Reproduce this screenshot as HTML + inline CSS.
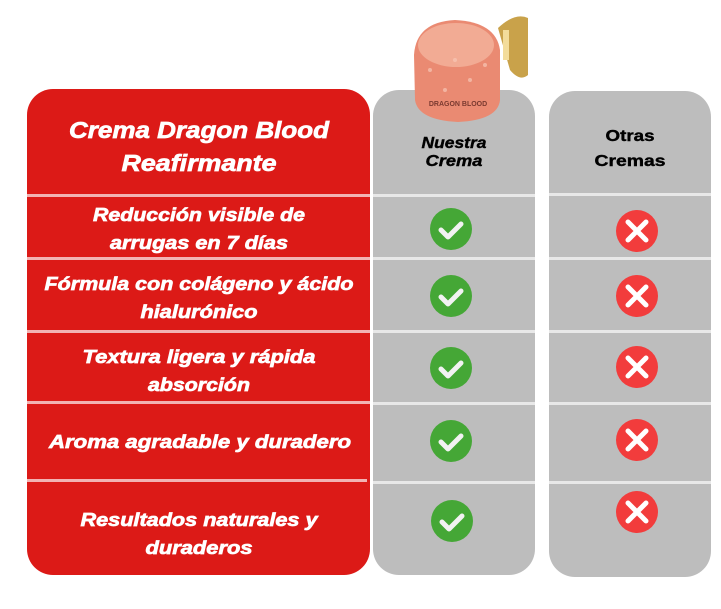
<!DOCTYPE html>
<html><head><meta charset="utf-8"><style>
html,body{margin:0;padding:0;background:#fff;width:721px;height:609px;overflow:hidden}
svg text{font-family:"Liberation Sans",sans-serif;font-weight:bold}
</style></head><body>
<svg width="721" height="609" viewBox="0 0 721 609" xmlns="http://www.w3.org/2000/svg">
<rect x="27" y="89" width="343" height="486" rx="26" fill="#dc1a17"/>
<rect x="373" y="90" width="162" height="485" rx="26" fill="#bdbdbd"/>
<rect x="549" y="91" width="162" height="486" rx="26" fill="#bdbdbd"/>
<g fill="#f2b3b3">
<rect x="27" y="194" width="343" height="3"/><rect x="27" y="257" width="343" height="3"/>
<rect x="27" y="330" width="343" height="3"/><rect x="27" y="401" width="343" height="3"/>
<rect x="27" y="479" width="340" height="3"/>
</g>
<g fill="#e8e8e8">
<rect x="373" y="194" width="162" height="3"/><rect x="373" y="257" width="162" height="3"/>
<rect x="373" y="330" width="162" height="3"/><rect x="373" y="402" width="162" height="3"/>
<rect x="373" y="481" width="162" height="3"/>
<rect x="549" y="193" width="162" height="3"/><rect x="549" y="257" width="162" height="3"/>
<rect x="549" y="330" width="162" height="3"/><rect x="549" y="402" width="162" height="3"/>
<rect x="549" y="481" width="162" height="3"/>
</g>
<!-- jar -->
<path d="M498 28 Q515 12 528 18 L528 75 Q520 82 510 70 Z" fill="#c9a24a"/>
<rect x="503" y="30" width="6" height="30" fill="#f3dc9a"/>
<path d="M414 55 Q416 22 455 20 Q496 22 500 50 L500 100 Q498 120 458 122 Q418 120 415 100 Z" fill="#ea8a72"/>
<ellipse cx="456" cy="45" rx="38" ry="22" fill="#f2ab94"/>
<g fill="#f8c7b6" opacity="0.7"><circle cx="430" cy="70" r="2"/><circle cx="470" cy="80" r="2"/><circle cx="445" cy="90" r="2"/><circle cx="485" cy="65" r="2"/><circle cx="455" cy="60" r="2"/></g>
<text x="458" y="106" font-size="7" fill="#7a3a30" text-anchor="middle">DRAGON BLOOD</text>
<g fill="#fff" stroke="#fff" stroke-width="0.7" font-style="italic">
<text x="199" y="138" font-size="23" text-anchor="middle" textLength="260" lengthAdjust="spacingAndGlyphs">Crema Dragon Blood</text>
<text x="199" y="171" font-size="23" text-anchor="middle" textLength="155" lengthAdjust="spacingAndGlyphs">Reafirmante</text>
<g font-size="18" text-anchor="middle">
<text x="199" y="221" textLength="212" lengthAdjust="spacingAndGlyphs">Reducción visible de</text>
<text x="199" y="249" textLength="178" lengthAdjust="spacingAndGlyphs">arrugas en 7 días</text>
<text x="199" y="290" textLength="309" lengthAdjust="spacingAndGlyphs">Fórmula con colágeno y ácido</text>
<text x="199" y="318" textLength="117" lengthAdjust="spacingAndGlyphs">hialurónico</text>
<text x="199" y="363" textLength="233" lengthAdjust="spacingAndGlyphs">Textura ligera y rápida</text>
<text x="199" y="391" textLength="102" lengthAdjust="spacingAndGlyphs">absorción</text>
<text x="200" y="448" textLength="302" lengthAdjust="spacingAndGlyphs">Aroma agradable y duradero</text>
<text x="199" y="526" textLength="237" lengthAdjust="spacingAndGlyphs">Resultados naturales y</text>
<text x="199" y="554" textLength="107" lengthAdjust="spacingAndGlyphs">duraderos</text>
</g></g>
<g fill="#000" stroke="#000" stroke-width="0.4" font-size="16" text-anchor="middle">
<text x="454" y="148" font-style="italic" textLength="65" lengthAdjust="spacingAndGlyphs">Nuestra</text>
<text x="454" y="166" font-style="italic" textLength="57" lengthAdjust="spacingAndGlyphs">Crema</text>
<text x="630" y="141" textLength="49" lengthAdjust="spacingAndGlyphs">Otras</text>
<text x="630" y="166" textLength="71" lengthAdjust="spacingAndGlyphs">Cremas</text>
</g>
<g>
<circle cx="451" cy="229" r="21" fill="#45a736"/>
<circle cx="451" cy="296" r="21" fill="#45a736"/>
<circle cx="451" cy="368" r="21" fill="#45a736"/>
<circle cx="451" cy="441" r="21" fill="#45a736"/>
<circle cx="452" cy="521" r="21" fill="#45a736"/>
</g>
<g fill="none" stroke="#f2f2f2" stroke-width="5" stroke-linecap="round" stroke-linejoin="round">
<path d="M441 230 l7 7 l13 -13"/><path d="M441 297 l7 7 l13 -13"/><path d="M441 369 l7 7 l13 -13"/>
<path d="M441 442 l7 7 l13 -13"/><path d="M442 522 l7 7 l13 -13"/>
</g>
<g>
<circle cx="637" cy="231" r="21" fill="#f23c3c"/>
<circle cx="637" cy="296" r="21" fill="#f23c3c"/>
<circle cx="637" cy="367" r="21" fill="#f23c3c"/>
<circle cx="637" cy="440" r="21" fill="#f23c3c"/>
<circle cx="637" cy="512" r="21" fill="#f23c3c"/>
</g>
<g stroke="#fff" stroke-width="5" stroke-linecap="round">
<path d="M628 222 l18 18 M646 222 l-18 18"/>
<path d="M628 287 l18 18 M646 287 l-18 18"/>
<path d="M628 358 l18 18 M646 358 l-18 18"/>
<path d="M628 431 l18 18 M646 431 l-18 18"/>
<path d="M628 503 l18 18 M646 503 l-18 18"/>
</g>
</svg>
</body></html>
